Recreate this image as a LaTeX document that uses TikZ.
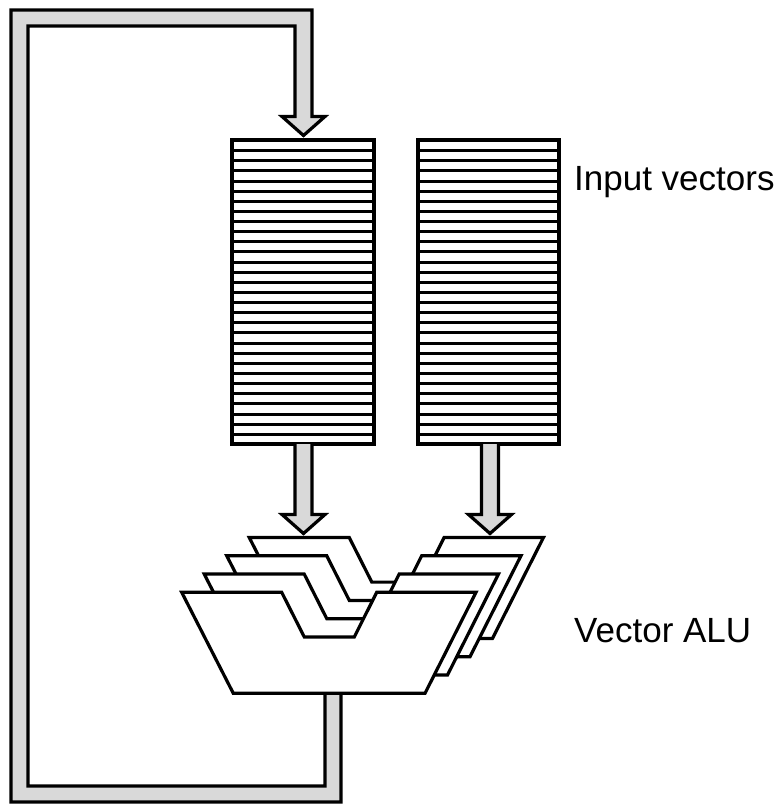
\documentclass[tikz,border=0pt]{standalone}
\usepackage{fontspec}
\setmainfont{Liberation Sans}
\tikzset{
  pipe/.style={draw=black,line width=3.2pt,fill=black!15,line join=miter},
  alu/.style={draw=black,line width=3.2pt,fill=white,line join=miter},
  regbox/.style={draw=black,line width=3.2pt,fill=white},
  reglabel/.style={anchor=base west,inner sep=0pt,font=\fontsize{35}{42}\selectfont}
}
\newcommand{\regfile}[2]{
  \draw[regbox] (#1,140) rectangle (#2,444);
  \foreach \k in {1,...,29}
    \draw[line width=2.8pt] (#1,{round(140+\k*10.13)+0.5}) -- (#2,{round(140+\k*10.13)+0.5});
}
\newcommand{\feedarrow}[2]{
  \draw[pipe] (#1-8.5,444) -- (#1-8.5,#2-19) -- (#1-21.5,#2-19) -- (#1,#2) -- (#1+21.5,#2-19) -- (#1+8.5,#2-19) -- (#1+8.5,444);
}
\begin{document}
\begin{tikzpicture}[x=1pt,y=-1pt]
  \useasboundingbox (0,0) rectangle (780,804);
  % Feedback path
  \draw[pipe] (341,694) -- (341,802) -- (11,802) -- (11,10) -- (312,10) -- (312,116.5)
    -- (325,116.5) -- (303.5,135.5) -- (282,116.5) -- (295,116.5) -- (295,26) -- (28,26)
    -- (28,786) -- (325,786) -- (325,694);
  % Register files
  \regfile{232}{374}
  \regfile{418}{559}
  \node[reglabel] (inputlabel) at (574,190) {Input vectors};
  % Arrows into the ALU
  \feedarrow{303.5}{533.5}
  \feedarrow{490}{533.5}
  % ALU stack, back to front
  \foreach \n in {3,2,1,0}
    \draw[alu,shift={(22.5*\n,-18.3*\n)}] (181.7,592.3) -- (233.3,693.3) -- (425,693.3)
      -- (476,592.3) -- (376.7,592.3) -- (354.3,637) -- (304.3,637) -- (281.7,592.3) -- cycle;
  \node[reglabel] (alulabel) at (574,642) {Vector ALU};
\end{tikzpicture}
\end{document}
